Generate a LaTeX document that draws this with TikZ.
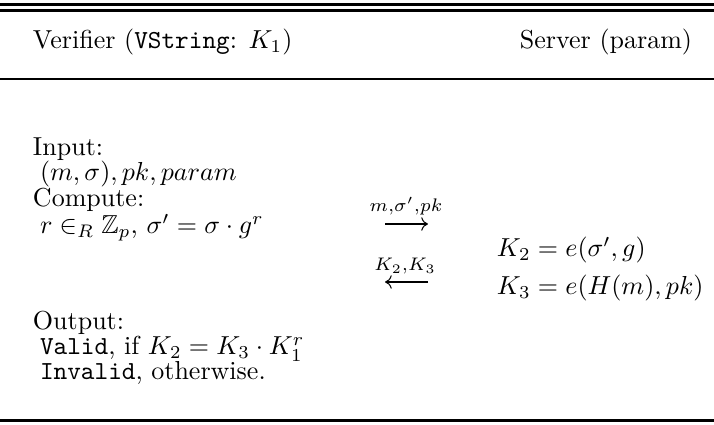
\documentclass[tikz,border=0pt]{standalone}
\usepackage{amssymb}
\usetikzlibrary{arrows.meta}
\begin{document}
\begin{tikzpicture}[x=0.3846pt,y=-0.3846pt,
  txt/.style={anchor=base west,inner sep=0pt,outer sep=0pt},
  rulel/.style={line width=0.8pt},
  msg/.style={line width=0.4pt,-{Computer Modern Rightarrow[length=2.6pt,width=5.2pt]}},
  lbl/.style={inner sep=0pt,anchor=base}]
\useasboundingbox (0,0) rectangle (714,425);
% rules
\draw[rulel] (0,4.5) -- (714,4.5);
\draw[rulel] (0,10.5) -- (714,10.5);
\draw[rulel] (0,79) -- (714,79);
\draw[line width=1pt] (0,420.5) -- (714,420.5);
% header
\node[txt] (ver) at (33,49) {Verifier (\texttt{VString}: $K_1$)};
\node[txt,anchor=base] (srv) at (606,49) {Server (param)};
% verifier column
\node[txt] (in) at (33,156) {Input:};
\node[txt] (inv) at (40,181) {$(m,\sigma),pk,param$};
\node[txt] (cmp) at (33,207) {Compute:};
\node[txt] (cv) at (40,234) {$r\in_R \mathbb{Z}_p$, $\sigma'=\sigma\cdot g^r$};
\node[txt] (out) at (33,330) {Output:};
\node[txt] (v1) at (40,355) {\texttt{Valid}, if $K_2=K_3\cdot K_1^r$};
\node[txt] (v2) at (40,380) {\texttt{Invalid}, otherwise.};
% server column
\node[txt] (k2) at (497,257) {$K_2=e(\sigma',g)$};
\node[txt] (k3) at (497,295) {$K_3=e(H(m),pk)$};
% messages
\coordinate (a1s) at (385,224);
\coordinate (a1e) at (428,224);
\draw[msg] (a1s) -- (a1e);
\node[lbl] (l1) at (406,212) {$\scriptstyle m,\sigma',pk$};
\coordinate (a2s) at (428,282);
\coordinate (a2e) at (385,282);
\draw[msg] (a2s) -- (a2e);
\node[lbl] (l2) at (405,271) {$\scriptstyle K_2,K_3$};
\end{tikzpicture}
\end{document}
